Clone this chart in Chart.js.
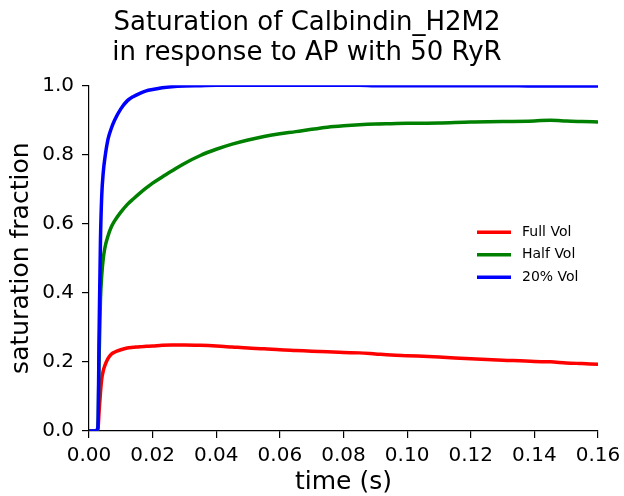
<!DOCTYPE html>
<html>
<head>
<meta charset="utf-8">
<script src="https://cdn.jsdelivr.net/npm/chart.js@4/dist/chart.umd.min.js"></script>
<style>
html,body{margin:0;padding:0;background:#fff;}
#wrap{width:624px;height:496px;}
</style>
</head>
<body>
<div id="wrap"><canvas id="c" width="624" height="496"></canvas></div>
<script>
const titleLines = ["Saturation of Calbindin_H2M2", "in response to AP with 50 RyR"];
const xLabel = "time (s)";
const yLabel = "saturation fraction";
const seriesNames = ["Full Vol", "Half Vol", "20% Vol"];
const seriesColors = ["#ff0000", "#008000", "#0000ff"];

const timeS = [0, 0.002, 0.0028, 0.0032, 0.0036, 0.004, 0.0045, 0.005, 0.006, 0.007, 0.008, 0.010, 0.012, 0.014, 0.016, 0.018, 0.020, 0.023, 0.026, 0.030, 0.035, 0.040, 0.045, 0.050, 0.055, 0.060, 0.065, 0.070, 0.075, 0.080, 0.085, 0.090, 0.095, 0.100, 0.110, 0.120, 0.130, 0.140, 0.145, 0.150, 0.155, 0.160];

const fullVol = [0, 0, 0.005, 0.06, 0.11, 0.15, 0.175, 0.19, 0.21, 0.222, 0.228, 0.235, 0.240, 0.242, 0.244, 0.245, 0.246, 0.248, 0.249, 0.249, 0.248, 0.246, 0.243, 0.240, 0.238, 0.235, 0.233, 0.231, 0.229, 0.227, 0.226, 0.223, 0.220, 0.218, 0.214, 0.209, 0.205, 0.201, 0.200, 0.197, 0.195, 0.193];

const halfVol = [0, 0, 0.01, 0.22, 0.38, 0.45, 0.50, 0.53, 0.565, 0.59, 0.607, 0.633, 0.655, 0.672, 0.688, 0.703, 0.717, 0.735, 0.752, 0.774, 0.797, 0.815, 0.830, 0.842, 0.852, 0.860, 0.866, 0.873, 0.879, 0.883, 0.886, 0.888, 0.889, 0.890, 0.891, 0.894, 0.895, 0.897, 0.899, 0.897, 0.895, 0.894];

const vol20 = [0, 0, 0.01, 0.30, 0.55, 0.68, 0.75, 0.79, 0.845, 0.875, 0.898, 0.932, 0.955, 0.968, 0.977, 0.984, 0.988, 0.993, 0.996, 0.998, 0.999, 1.0, 1.0, 1.0, 1.0, 1.0, 1.0, 1.0, 1.0, 1.0, 1.0, 0.999, 0.999, 0.999, 0.999, 0.999, 0.999, 0.998, 0.998, 0.998, 0.998, 0.998];

const xTicks = [0, 0.02, 0.04, 0.06, 0.08, 0.10, 0.12, 0.14, 0.16];
const yTicks = [0, 0.2, 0.4, 0.6, 0.8, 1.0];

const FONT = "'DejaVu Sans', sans-serif";
const seriesValues = [fullVol, halfVol, vol20];

const datasets = seriesValues.map((vals, i) => ({
  label: seriesNames[i],
  data: timeS.map((t, j) => ({x: t, y: vals[j]})),
  borderColor: seriesColors[i],
  backgroundColor: seriesColors[i],
  borderWidth: 3.5,
  pointRadius: 0,
  fill: false,
  cubicInterpolationMode: 'monotone',
  order: 2 - i
}));

const legendPlugin = {
  id: 'customLegend',
  afterDatasetsDraw(chart) {
    const ctx = chart.ctx;
    const ca = chart.chartArea;
    const x0 = ca.right - 121;
    const y0 = ca.top + 147;
    ctx.save();
    ctx.font = "14px " + FONT;
    ctx.textBaseline = 'middle';
    ctx.textAlign = 'left';
    chart.data.datasets.forEach((ds, i) => {
      const y = y0 + i * 22.5;
      ctx.strokeStyle = ds.borderColor;
      ctx.lineWidth = 3.5;
      ctx.beginPath();
      ctx.moveTo(x0, y);
      ctx.lineTo(x0 + 34, y);
      ctx.stroke();
      ctx.fillStyle = '#000';
      ctx.fillText(ds.label, x0 + 45, y);
    });
    ctx.restore();
  }
};

new Chart(document.getElementById('c'), {
  type: 'line',
  data: { datasets },
  plugins: [legendPlugin],
  options: {
    responsive: false,
    animation: false,
    devicePixelRatio: 1,
    layout: { padding: { left: 16, right: 26, top: 0, bottom: 0 } },
    plugins: {
      legend: { display: false },
      tooltip: { enabled: false },
      title: {
        display: true,
        text: titleLines,
        color: '#000',
        font: { family: FONT, size: 26, weight: 'normal', lineHeight: 1.16 },
        padding: { top: 8, bottom: 17 }
      }
    },
    scales: {
      x: {
        type: 'linear',
        min: 0, max: 0.16,
        afterBuildTicks(scale) { scale.ticks = xTicks.map(v => ({value: v})); },
        afterFit(scale) { scale.height = 65; scale.paddingRight = 0; scale.paddingLeft = 0; },
        ticks: {
          color: '#000',
          font: { family: FONT, size: 20 },
          padding: 6,
          maxRotation: 0,
          callback: v => v.toFixed(2)
        },
        grid: { drawOnChartArea: false, drawTicks: true, tickLength: 7, color: '#000', lineWidth: 1.2 },
        border: { display: true, color: '#000', width: 1.2 },
        title: {
          display: true, text: xLabel, color: '#000',
          font: { family: FONT, size: 25, lineHeight: 1.2 },
          padding: { top: 0, bottom: -1 }
        }
      },
      y: {
        type: 'linear',
        min: 0, max: 1,
        afterBuildTicks(scale) { scale.ticks = yTicks.map(v => ({value: v})); },
        afterFit(scale) { scale.width = 73; },
        ticks: {
          color: '#000',
          font: { family: FONT, size: 20 },
          padding: 8,
          callback: v => v.toFixed(1)
        },
        grid: { drawOnChartArea: false, drawTicks: true, tickLength: 7, color: '#000', lineWidth: 1.2 },
        border: { display: true, color: '#000', width: 1.2 },
        title: {
          display: true, text: yLabel, color: '#000',
          font: { family: FONT, size: 25, lineHeight: 1.2 },
          padding: { top: -9.5, bottom: 0 }
        }
      }
    }
  }
});
</script>
</body>
</html>
